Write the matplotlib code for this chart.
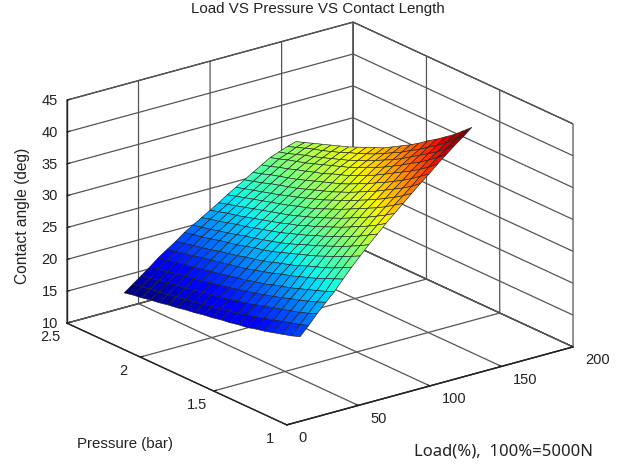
import matplotlib
matplotlib.use("Agg")
import matplotlib.pyplot as plt
import numpy as np
from mpl_toolkits.mplot3d import Axes3D  # noqa

plt.rcParams['font.family'] = ['Liberation Sans', 'DejaVu Sans']

load = [40, 46, 52, 58, 64, 70, 76, 82, 88, 94, 100, 106, 112, 118, 124, 130, 136, 142, 148, 154, 160]
pressure = [1.30, 1.36, 1.42, 1.48, 1.54, 1.60, 1.66, 1.72, 1.78, 1.84, 1.90,
            1.96, 2.02, 2.08, 2.14, 2.20, 2.26, 2.32, 2.38, 2.44, 2.50]
# contact angle: rows follow load, columns follow pressure
angle = [
 [18.2,17.7,17.3,16.9,16.5,16.2,15.8,15.6,15.3,15.1,14.8,14.6,14.3,14.1,13.8,13.6,13.3,13.1,12.8,12.6,12.3],
 [19.6,19.1,18.7,18.3,17.9,17.5,17.1,16.8,16.4,16.1,15.8,15.5,15.2,15.0,14.7,14.5,14.2,14.0,13.8,13.5,13.3],
 [21.1,20.5,20.0,19.6,19.2,18.8,18.4,18.0,17.6,17.3,16.9,16.6,16.4,16.1,15.8,15.5,15.3,15.0,14.8,14.5,14.3],
 [22.5,21.9,21.4,20.9,20.5,20.0,19.6,19.2,18.8,18.5,18.1,17.8,17.5,17.2,16.9,16.6,16.4,16.1,15.8,15.6,15.3],
 [23.8,23.2,22.7,22.2,21.7,21.2,20.8,20.4,19.9,19.6,19.2,18.9,18.6,18.3,18.0,17.7,17.4,17.2,16.9,16.6,16.4],
 [25.4,24.8,24.2,23.6,23.1,22.6,22.1,21.7,21.2,20.8,20.4,20.0,19.7,19.4,19.1,18.8,18.5,18.2,17.9,17.6,17.3],
 [26.9,26.2,25.5,24.9,24.4,23.9,23.3,22.8,22.4,21.9,21.5,21.1,20.8,20.4,20.1,19.8,19.4,19.1,18.8,18.5,18.2],
 [28.3,27.6,26.9,26.3,25.7,25.1,24.6,24.1,23.6,23.1,22.6,22.2,21.9,21.5,21.1,20.8,20.5,20.1,19.8,19.5,19.2],
 [29.7,28.9,28.2,27.5,26.9,26.3,25.7,25.2,24.6,24.1,23.6,23.2,22.8,22.4,22.1,21.7,21.3,21.0,20.6,20.3,20.0],
 [31.0,30.2,29.4,28.7,28.1,27.4,26.8,26.3,25.7,25.2,24.7,24.2,23.8,23.4,23.0,22.6,22.3,21.9,21.5,21.2,20.8],
 [32.3,31.4,30.6,29.9,29.2,28.5,27.9,27.3,26.7,26.2,25.6,25.2,24.7,24.3,23.9,23.5,23.1,22.7,22.4,22.0,21.6],
 [33.5,32.6,31.8,31.0,30.3,29.6,28.9,28.3,27.7,27.1,26.6,26.1,25.6,25.2,24.8,24.4,24.0,23.6,23.2,22.8,22.4],
 [34.7,33.8,32.9,32.1,31.4,30.7,30.0,29.3,28.7,28.1,27.5,27.0,26.6,26.1,25.7,25.3,24.9,24.5,24.1,23.7,23.3],
 [35.9,34.9,34.0,33.2,32.4,31.7,31.0,30.3,29.7,29.1,28.5,28.0,27.5,27.0,26.6,26.1,25.7,25.3,24.9,24.5,24.1],
 [37.1,36.0,35.1,34.3,33.5,32.7,32.0,31.3,30.6,30.0,29.4,28.9,28.4,27.9,27.4,27.0,26.6,26.2,25.7,25.3,24.9],
 [38.2,37.2,36.2,35.3,34.5,33.7,33.0,32.2,31.6,30.9,30.3,29.8,29.3,28.8,28.3,27.8,27.4,27.0,26.6,26.1,25.7],
 [39.4,38.3,37.3,36.4,35.6,34.8,34.0,33.2,32.5,31.9,31.2,30.7,30.2,29.6,29.2,28.7,28.3,27.8,27.4,26.9,26.5],
 [40.5,39.4,38.4,37.4,36.6,35.7,34.9,34.1,33.4,32.8,32.1,31.5,31.0,30.5,30.0,29.5,29.0,28.6,28.2,27.7,27.3],
 [41.6,40.4,39.3,38.4,37.5,36.6,35.7,34.9,34.2,33.5,32.8,32.2,31.6,31.1,30.6,30.1,29.6,29.2,28.7,28.2,27.8],
 [42.6,41.4,40.3,39.3,38.4,37.4,36.6,35.7,35.0,34.2,33.5,32.9,32.3,31.8,31.2,30.7,30.2,29.8,29.3,28.8,28.3],
 [43.7,42.5,41.3,40.3,39.3,38.4,37.4,36.5,35.7,34.9,34.1,33.5,32.9,32.3,31.7,31.2,30.7,30.2,29.7,29.2,28.7],
]
load_ticks = [0, 50, 100, 150, 200]
pressure_ticks = [1, 1.5, 2, 2.5]
pressure_tick_labels = ['1', '1.5', '2', '2.5']
angle_ticks = [10, 15, 20, 25, 30, 35, 40, 45]

W, H = 635, 466
S = 547
TEXT = '#222222'
fig = plt.figure(figsize=(W / 100, H / 100), dpi=100, facecolor='white')
ax = fig.add_axes([39.1 / W, -38.4 / H, S / W, S / H], projection='3d', proj_type='ortho')
ax.patch.set_alpha(0)
ax.view_init(elev=20.8, azim=232.5)
ax.set_box_aspect((360.6, 361, 238.5))
ax.set_xlim(0, 200)
ax.set_ylim(1, 2.5)
ax.set_zlim(10, 45)

X, Y = np.meshgrid(load, pressure, indexing='ij')
ax.plot_surface(X, Y, np.array(angle), rstride=1, cstride=1, cmap='jet',
                edgecolor='#222222', linewidth=0.45, shade=False, antialiased=True)

ax.set_xticks(load_ticks)
ax.set_yticks(pressure_ticks)
ax.set_yticklabels(pressure_tick_labels)
ax.set_zticks(angle_ticks)
for axis in (ax.xaxis, ax.yaxis, ax.zaxis):
    axis.set_pane_color((1, 1, 1, 1))
    axis.pane.set_edgecolor('#222222')
    axis.pane.set_linewidth(0.9)
    axis.line.set_color('#222222')
    axis.line.set_linewidth(1.0)
    axis._axinfo['grid'].update(color='#555555', linewidth=0.9, linestyle='-')
    axis._axinfo['tick'].update(inward_factor=0.0, outward_factor=0.12)
ax.tick_params(axis='x', labelsize=10.5, colors=TEXT, pad=3)
ax.tick_params(axis='y', labelsize=10.5, colors=TEXT, pad=4)
ax.tick_params(axis='z', labelsize=10.5, colors=TEXT, pad=-1)
ax.zaxis.set_ticks_position('upper')
plt.setp(ax.get_xticklabels(), ha='left', va='baseline')
plt.setp(ax.get_yticklabels(), ha='center', va='baseline')
plt.setp(ax.get_zticklabels(), va='center_baseline')

fig.text(318 / W, 1 - 9 / H, 'Load VS Pressure VS Contact Length', ha='center', va='center',
         fontsize=10.9, color=TEXT)
fig.text(125 / W, 1 - 444 / H, 'Pressure (bar)', ha='center', va='center', fontsize=10.8, color=TEXT)
fig.text(23 / W, 1 - 216 / H, 'Contact angle (deg)', ha='center', va='center', rotation=90,
         fontsize=11.2, color=TEXT)
fig.text(504 / W, 1 - 451 / H, 'Load(%),  100%=5000N', ha='center', va='center',
         fontsize=12, color=TEXT, family=['Noto Sans', 'DejaVu Sans'])

fig.savefig('out.png', dpi=100, facecolor='white')
